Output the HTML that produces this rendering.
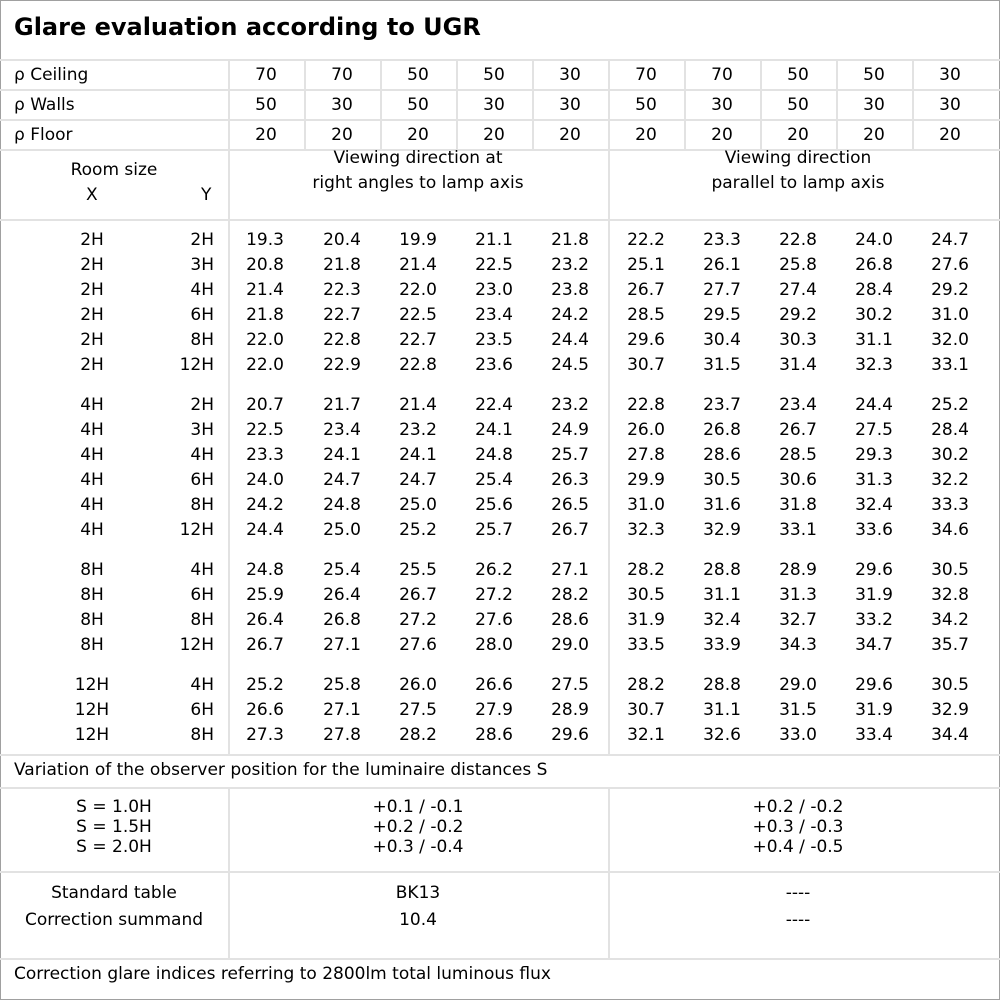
<!DOCTYPE html>
<html><head><meta charset="utf-8"><style>
body{margin:0;background:#fff;}
#c{position:relative;width:1000px;height:1000px;overflow:hidden;font-family:"DejaVu Sans","Liberation Sans",sans-serif;font-size:17px;color:#000;}
.h{position:absolute;left:0;width:1000px;height:2px;background:#e2e2e2;}
.v{position:absolute;width:2px;background:#e2e2e2;}
.t{position:absolute;white-space:nowrap;}
.r{position:absolute;left:0;height:25px;line-height:25px;width:1000px;}
.r span{position:absolute;top:0;text-align:center;}
.x{left:50px;width:84px;}
.y{left:140px;width:74px;text-align:right!important;}
.r span.n{width:76px;}
.n:nth-of-type(3){left:227px}.n:nth-of-type(4){left:304px}.n:nth-of-type(5){left:380px}.n:nth-of-type(6){left:456px}.n:nth-of-type(7){left:532px}
.n:nth-of-type(8){left:608px}.n:nth-of-type(9){left:684px}.n:nth-of-type(10){left:760px}.n:nth-of-type(11){left:836px}.n:nth-of-type(12){left:912px}
.p{position:absolute;height:30px;line-height:30px;left:0;width:1000px;}
.p span{position:absolute;top:0;text-align:center;width:76px;}
.p span.l{left:14px;text-align:left;width:200px;}
</style></head><body><div id="c">
<div style="position:absolute;left:0;top:0;width:998px;height:998px;border:1px solid #a0a0a0;"></div>
<div class="t" style="left:14px;top:13px;font-size:24px;font-weight:bold;">Glare evaluation according to UGR</div>
<div class="h" style="top:59px"></div><div class="h" style="top:89px"></div><div class="h" style="top:119px"></div><div class="h" style="top:149px"></div><div class="h" style="top:219px"></div><div class="h" style="top:754px"></div><div class="h" style="top:787px"></div><div class="h" style="top:871px"></div><div class="h" style="top:958px"></div>
<div class="v" style="left:228px;top:60px;height:694px"></div>
<div class="v" style="left:608px;top:60px;height:694px"></div>
<div class="v" style="left:228px;top:788px;height:170px"></div>
<div class="v" style="left:608px;top:788px;height:170px"></div>
<div class="v" style="left:304px;top:60px;height:90px"></div><div class="v" style="left:380px;top:60px;height:90px"></div><div class="v" style="left:456px;top:60px;height:90px"></div><div class="v" style="left:532px;top:60px;height:90px"></div><div class="v" style="left:684px;top:60px;height:90px"></div><div class="v" style="left:760px;top:60px;height:90px"></div><div class="v" style="left:836px;top:60px;height:90px"></div><div class="v" style="left:912px;top:60px;height:90px"></div>
<div class="p" style="top:60px"><span class="l">ρ Ceiling</span><span style="left:228px">70</span><span style="left:304px">70</span><span style="left:380px">50</span><span style="left:456px">50</span><span style="left:532px">30</span><span style="left:608px">70</span><span style="left:684px">70</span><span style="left:760px">50</span><span style="left:836px">50</span><span style="left:912px">30</span></div>
<div class="p" style="top:90px"><span class="l">ρ Walls</span><span style="left:228px">50</span><span style="left:304px">30</span><span style="left:380px">50</span><span style="left:456px">30</span><span style="left:532px">30</span><span style="left:608px">50</span><span style="left:684px">30</span><span style="left:760px">50</span><span style="left:836px">30</span><span style="left:912px">30</span></div>
<div class="p" style="top:120px"><span class="l">ρ Floor</span><span style="left:228px">20</span><span style="left:304px">20</span><span style="left:380px">20</span><span style="left:456px">20</span><span style="left:532px">20</span><span style="left:608px">20</span><span style="left:684px">20</span><span style="left:760px">20</span><span style="left:836px">20</span><span style="left:912px">20</span></div>
<div class="t" style="left:0;width:228px;text-align:center;top:160px">Room size</div>
<div class="t" style="left:86px;top:185px">X</div><div class="t" style="left:201px;top:185px">Y</div>
<div class="t" style="left:228px;width:380px;text-align:center;top:146px;line-height:25px">Viewing direction at<br>right angles to lamp axis</div>
<div class="t" style="left:608px;width:380px;text-align:center;top:146px;line-height:25px">Viewing direction<br>parallel to lamp axis</div>

<div class="r" style="top:228px"><span class="x">2H</span><span class="y">2H</span><span class="n">19.3</span><span class="n">20.4</span><span class="n">19.9</span><span class="n">21.1</span><span class="n">21.8</span><span class="n">22.2</span><span class="n">23.3</span><span class="n">22.8</span><span class="n">24.0</span><span class="n">24.7</span></div>
<div class="r" style="top:253px"><span class="x">2H</span><span class="y">3H</span><span class="n">20.8</span><span class="n">21.8</span><span class="n">21.4</span><span class="n">22.5</span><span class="n">23.2</span><span class="n">25.1</span><span class="n">26.1</span><span class="n">25.8</span><span class="n">26.8</span><span class="n">27.6</span></div>
<div class="r" style="top:278px"><span class="x">2H</span><span class="y">4H</span><span class="n">21.4</span><span class="n">22.3</span><span class="n">22.0</span><span class="n">23.0</span><span class="n">23.8</span><span class="n">26.7</span><span class="n">27.7</span><span class="n">27.4</span><span class="n">28.4</span><span class="n">29.2</span></div>
<div class="r" style="top:303px"><span class="x">2H</span><span class="y">6H</span><span class="n">21.8</span><span class="n">22.7</span><span class="n">22.5</span><span class="n">23.4</span><span class="n">24.2</span><span class="n">28.5</span><span class="n">29.5</span><span class="n">29.2</span><span class="n">30.2</span><span class="n">31.0</span></div>
<div class="r" style="top:328px"><span class="x">2H</span><span class="y">8H</span><span class="n">22.0</span><span class="n">22.8</span><span class="n">22.7</span><span class="n">23.5</span><span class="n">24.4</span><span class="n">29.6</span><span class="n">30.4</span><span class="n">30.3</span><span class="n">31.1</span><span class="n">32.0</span></div>
<div class="r" style="top:353px"><span class="x">2H</span><span class="y">12H</span><span class="n">22.0</span><span class="n">22.9</span><span class="n">22.8</span><span class="n">23.6</span><span class="n">24.5</span><span class="n">30.7</span><span class="n">31.5</span><span class="n">31.4</span><span class="n">32.3</span><span class="n">33.1</span></div>

<div class="r" style="top:393px"><span class="x">4H</span><span class="y">2H</span><span class="n">20.7</span><span class="n">21.7</span><span class="n">21.4</span><span class="n">22.4</span><span class="n">23.2</span><span class="n">22.8</span><span class="n">23.7</span><span class="n">23.4</span><span class="n">24.4</span><span class="n">25.2</span></div>
<div class="r" style="top:418px"><span class="x">4H</span><span class="y">3H</span><span class="n">22.5</span><span class="n">23.4</span><span class="n">23.2</span><span class="n">24.1</span><span class="n">24.9</span><span class="n">26.0</span><span class="n">26.8</span><span class="n">26.7</span><span class="n">27.5</span><span class="n">28.4</span></div>
<div class="r" style="top:443px"><span class="x">4H</span><span class="y">4H</span><span class="n">23.3</span><span class="n">24.1</span><span class="n">24.1</span><span class="n">24.8</span><span class="n">25.7</span><span class="n">27.8</span><span class="n">28.6</span><span class="n">28.5</span><span class="n">29.3</span><span class="n">30.2</span></div>
<div class="r" style="top:468px"><span class="x">4H</span><span class="y">6H</span><span class="n">24.0</span><span class="n">24.7</span><span class="n">24.7</span><span class="n">25.4</span><span class="n">26.3</span><span class="n">29.9</span><span class="n">30.5</span><span class="n">30.6</span><span class="n">31.3</span><span class="n">32.2</span></div>
<div class="r" style="top:493px"><span class="x">4H</span><span class="y">8H</span><span class="n">24.2</span><span class="n">24.8</span><span class="n">25.0</span><span class="n">25.6</span><span class="n">26.5</span><span class="n">31.0</span><span class="n">31.6</span><span class="n">31.8</span><span class="n">32.4</span><span class="n">33.3</span></div>
<div class="r" style="top:518px"><span class="x">4H</span><span class="y">12H</span><span class="n">24.4</span><span class="n">25.0</span><span class="n">25.2</span><span class="n">25.7</span><span class="n">26.7</span><span class="n">32.3</span><span class="n">32.9</span><span class="n">33.1</span><span class="n">33.6</span><span class="n">34.6</span></div>

<div class="r" style="top:558px"><span class="x">8H</span><span class="y">4H</span><span class="n">24.8</span><span class="n">25.4</span><span class="n">25.5</span><span class="n">26.2</span><span class="n">27.1</span><span class="n">28.2</span><span class="n">28.8</span><span class="n">28.9</span><span class="n">29.6</span><span class="n">30.5</span></div>
<div class="r" style="top:583px"><span class="x">8H</span><span class="y">6H</span><span class="n">25.9</span><span class="n">26.4</span><span class="n">26.7</span><span class="n">27.2</span><span class="n">28.2</span><span class="n">30.5</span><span class="n">31.1</span><span class="n">31.3</span><span class="n">31.9</span><span class="n">32.8</span></div>
<div class="r" style="top:608px"><span class="x">8H</span><span class="y">8H</span><span class="n">26.4</span><span class="n">26.8</span><span class="n">27.2</span><span class="n">27.6</span><span class="n">28.6</span><span class="n">31.9</span><span class="n">32.4</span><span class="n">32.7</span><span class="n">33.2</span><span class="n">34.2</span></div>
<div class="r" style="top:633px"><span class="x">8H</span><span class="y">12H</span><span class="n">26.7</span><span class="n">27.1</span><span class="n">27.6</span><span class="n">28.0</span><span class="n">29.0</span><span class="n">33.5</span><span class="n">33.9</span><span class="n">34.3</span><span class="n">34.7</span><span class="n">35.7</span></div>

<div class="r" style="top:673px"><span class="x">12H</span><span class="y">4H</span><span class="n">25.2</span><span class="n">25.8</span><span class="n">26.0</span><span class="n">26.6</span><span class="n">27.5</span><span class="n">28.2</span><span class="n">28.8</span><span class="n">29.0</span><span class="n">29.6</span><span class="n">30.5</span></div>
<div class="r" style="top:698px"><span class="x">12H</span><span class="y">6H</span><span class="n">26.6</span><span class="n">27.1</span><span class="n">27.5</span><span class="n">27.9</span><span class="n">28.9</span><span class="n">30.7</span><span class="n">31.1</span><span class="n">31.5</span><span class="n">31.9</span><span class="n">32.9</span></div>
<div class="r" style="top:723px"><span class="x">12H</span><span class="y">8H</span><span class="n">27.3</span><span class="n">27.8</span><span class="n">28.2</span><span class="n">28.6</span><span class="n">29.6</span><span class="n">32.1</span><span class="n">32.6</span><span class="n">33.0</span><span class="n">33.4</span><span class="n">34.4</span></div>

<div class="t" style="left:14px;top:758px;line-height:25px">Variation of the observer position for the luminaire distances S</div>
<div class="t" style="left:0;width:228px;text-align:center;top:797px;line-height:20px">S = 1.0H<br>S = 1.5H<br>S = 2.0H</div>
<div class="t" style="left:228px;width:380px;text-align:center;top:797px;line-height:20px">+0.1 / -0.1<br>+0.2 / -0.2<br>+0.3 / -0.4</div>
<div class="t" style="left:608px;width:380px;text-align:center;top:797px;line-height:20px">+0.2 / -0.2<br>+0.3 / -0.3<br>+0.4 / -0.5</div>
<div class="t" style="left:0;width:228px;text-align:center;top:880px;line-height:27px">Standard table<br>Correction summand</div>
<div class="t" style="left:228px;width:380px;text-align:center;top:880px;line-height:27px">BK13<br>10.4</div>
<div class="t" style="left:608px;width:380px;text-align:center;top:880px;line-height:27px">----<br>----</div>
<div class="t" style="left:14px;top:962px;line-height:25px">Correction glare indices referring to 2800lm total luminous flux</div>
</div></body></html>
